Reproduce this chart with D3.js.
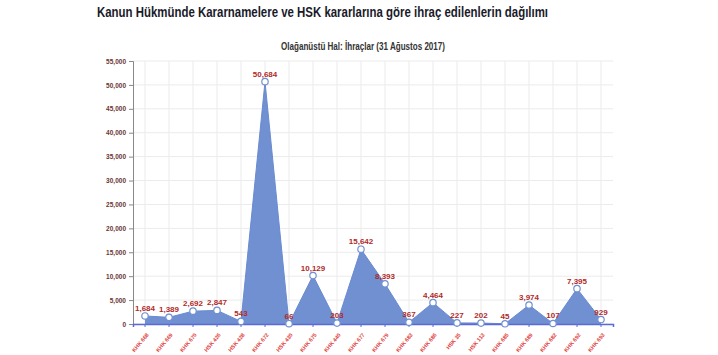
<!DOCTYPE html>
<html><head><meta charset="utf-8">
<script src="https://cdn.jsdelivr.net/npm/d3@7"></script>
<style>body{margin:0;background:#fff}svg{display:block}</style>
</head><body>
<svg id="c" width="718" height="355"></svg>
<script>
const categories = ["KHK 668","KHK 669","KHK 670","HSK 426","HSK 428","KHK 672","HSK 430","KHK 675","KHK 440","KHK 677","KHK 679","KHK 683","KHK 686","HSK 35","HSK 113","KHK 685","KHK 689","KHK 682","KHK 692","KHK 693"];
const values = [1684,1389,2692,2847,543,50684,66,10129,203,15642,8393,367,4464,227,202,45,3974,107,7395,929];
const yTicks = [0,5000,10000,15000,20000,25000,30000,35000,40000,45000,50000,55000];
const title = "Kanun Hükmünde Kararnamelere ve HSK kararlarına göre ihraç edilenlerin dağılımı";
const subtitle = "Olağanüstü Hal: İhraçlar (31 Ağustos 2017)";

const svg = d3.select("#c");
const L = 133, R = 613, T = 61, B = 324;
const x = d3.scaleBand().domain(categories).range([L, R]);
const cx = d => x(d) + x.bandwidth()/2;
const y = d3.scaleLinear().domain([0,55000]).range([B, T]);
const FONT = "Liberation Sans Narrow, Liberation Sans, sans-serif";

svg.append("text").attr("x",97).attr("y",17).attr("textLength",451).attr("lengthAdjust","spacingAndGlyphs")
  .attr("font-family",FONT).attr("font-weight","bold")
  .attr("font-size",14).attr("fill","#1a1a2a").text(title);
svg.append("text").attr("x",363).attr("y",50).attr("text-anchor","middle").attr("textLength",164).attr("lengthAdjust","spacingAndGlyphs")
  .attr("font-family",FONT).attr("font-weight","bold")
  .attr("font-size",10).attr("fill","#333").text(subtitle);

// grid
svg.append("g").selectAll("line").data(yTicks).join("line")
  .attr("x1",L).attr("x2",R).attr("y1",d=>y(d)).attr("y2",d=>y(d))
  .attr("stroke","#ebebeb").attr("stroke-width",1);
svg.append("g").selectAll("line").data(categories).join("line")
  .attr("x1",d=>cx(d)).attr("x2",d=>cx(d)).attr("y1",T).attr("y2",B)
  .attr("stroke","#ebebeb").attr("stroke-width",1);

// area
const area = d3.area().x((d,i)=>cx(categories[i])).y0(B).y1(d=>y(d));
svg.append("path").datum(values).attr("d",area).attr("fill","#7090d2");
const line = d3.line().x((d,i)=>cx(categories[i])).y(d=>y(d));
svg.append("path").datum(values).attr("d",line).attr("fill","none").attr("stroke","#6a8ad0").attr("stroke-width",1);

// y axis
const ya = svg.append("g").attr("transform",`translate(${L},0)`)
  .call(d3.axisLeft(y).tickValues(yTicks).tickFormat(d3.format(",")).tickSize(4).tickPadding(3));
ya.select(".domain").attr("stroke","#888");
ya.selectAll(".tick line").attr("stroke","#888");
ya.selectAll("text").attr("font-family",FONT).attr("font-size",6.5)
  .attr("font-weight","bold").attr("fill","#6b3535");

// x axis
const xa = svg.append("g").attr("transform",`translate(0,${B})`)
  .call(d3.axisBottom(x).tickSize(3).tickPadding(3));
xa.select(".domain").attr("stroke","#5a6ad8").attr("stroke-width",1.5);
xa.selectAll(".tick line").attr("stroke","#5a6ad8");
xa.selectAll("text").attr("font-family",FONT).attr("font-size",5.5).attr("font-weight","bold")
  .attr("fill","#e23a3a").attr("text-anchor","end").attr("dy","0.35em")
  .attr("transform","translate(-2,6) rotate(-50)");

// points
svg.append("g").selectAll("circle").data(values).join("circle")
  .attr("cx",(d,i)=>cx(categories[i])).attr("cy",d=>y(d)).attr("r",3.2)
  .attr("fill","#fff").attr("stroke","#7090d2").attr("stroke-width",1.2);

// labels
svg.append("g").selectAll("text").data(values).join("text")
  .attr("x",(d,i)=>cx(categories[i])).attr("y",d=>y(d)-5).attr("text-anchor","middle")
  .attr("font-family",FONT).attr("font-size",8).attr("font-weight","bold")
  .attr("fill","#b02a2a").text(d=>d3.format(",")(d));
</script>
</body></html>
